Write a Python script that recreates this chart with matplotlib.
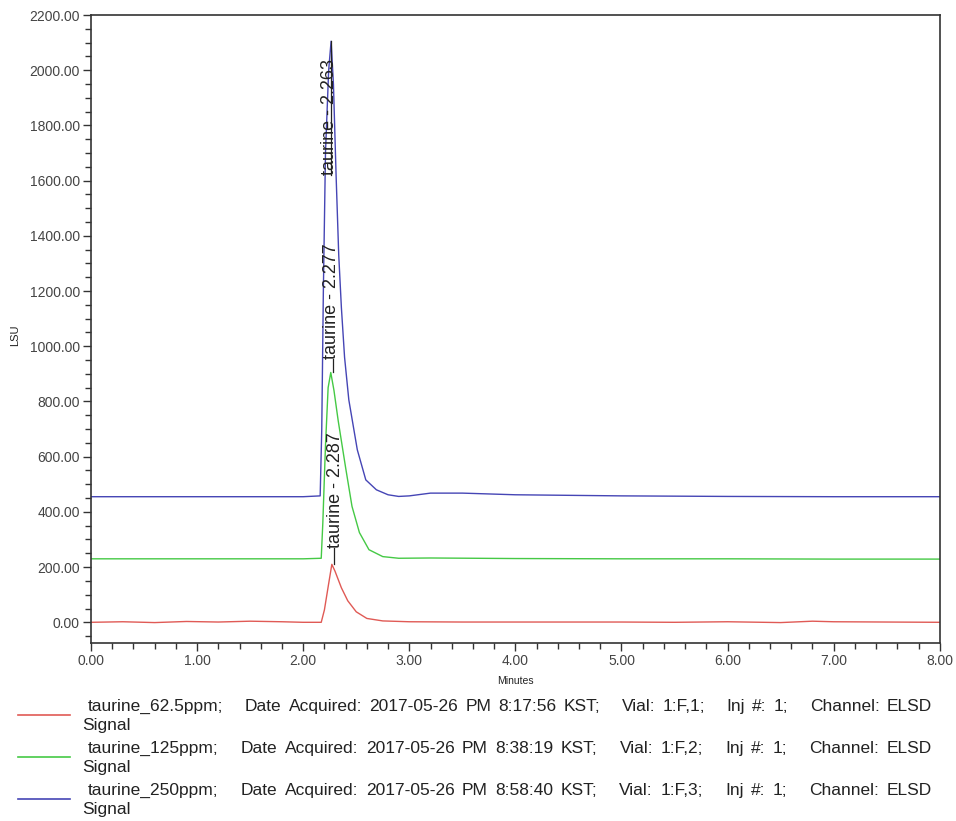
import matplotlib
matplotlib.use("Agg")
import matplotlib.pyplot as plt
from matplotlib.lines import Line2D
from matplotlib.ticker import MultipleLocator, FormatStrFormatter

plt.rcParams['font.family'] = ['Liberation Sans', 'DejaVu Sans']

# Chromatogram traces (minutes, LSU)
t_62 = [0.0, 0.3, 0.6, 0.9, 1.2, 1.5, 1.8, 2.0, 2.17, 2.2, 2.24, 2.27, 2.30, 2.36, 2.42,
        2.5, 2.6, 2.75, 3.0, 3.5, 4.0, 5.0, 5.5, 6.0, 6.5, 6.8, 7.0, 7.5, 8.0]
y_62 = [0, 2, -1, 3, 1, 4, 2, 0, 0, 45, 140, 210, 185, 125, 78,
        38, 14, 5, 2, 1, 1, 1, 0, 2, -1, 4, 2, 1, 0]

t_125 = [0.0, 1.0, 2.0, 2.17, 2.185, 2.21, 2.235, 2.26, 2.29, 2.33, 2.40, 2.46, 2.53, 2.62,
         2.75, 2.9, 3.2, 4.0, 5.0, 6.0, 7.0, 8.0]
y_125 = [230, 230, 230, 232, 360, 640, 850, 905, 840, 730, 560, 420, 325, 263,
         238, 232, 233, 231, 230, 230, 229, 229]

t_250 = [0.0, 1.0, 2.0, 2.16, 2.175, 2.19, 2.21, 2.24, 2.263, 2.285, 2.31, 2.335, 2.36,
         2.39, 2.43, 2.51, 2.59, 2.69, 2.8, 2.9, 3.0, 3.2, 3.5, 4.0, 5.0, 6.0, 7.0, 8.0]
y_250 = [455, 455, 455, 458, 700, 1200, 1700, 2000, 2105, 1950, 1620, 1330, 1140,
         960, 806, 625, 516, 480, 462, 456, 458, 468, 468, 462, 458, 456, 455, 455]

# peak labels: retention time, peak height, label start
peak_rt = [2.287, 2.277, 2.263]
peak_top = [210, 905, 2105]
label_lo = [270, 955, 1621]
label_x = [2.30, 2.27, 2.245]

names = ["taurine_62.5ppm;", "taurine_125ppm;", "taurine_250ppm;"]
acq_date = ["2017-05-26", "2017-05-26", "2017-05-26"]
acq_time = ["8:17:56", "8:38:19", "8:58:40"]
vials = ["1:F,1", "1:F,2", "1:F,3"]
colors = ["#e05a55", "#45c945", "#4545b5"]

W, H = 956, 821
fig = plt.figure(figsize=(W / 100, H / 100), dpi=100)
ax = fig.add_axes([0.0952, 0.2168, 0.8878, 0.7649])

for t, y, c in zip([t_62, t_125, t_250], [y_62, y_125, y_250], colors):
    ax.plot(t, y, color=c, lw=1.0)

# peak annotations
for rt, top, lo, lx in zip(peak_rt, peak_top, label_lo, label_x):
    ax.plot([rt, rt], [top, lo], color="#222222", lw=0.9)
    ax.text(lx, lo, f"taurine - {rt:.3f}", rotation=90, ha="center", va="bottom",
            fontsize=13, color="#222222")

ax.set_xlim(0, 8)
ax.set_ylim(-75, 2200)
ax.xaxis.set_major_locator(MultipleLocator(1))
ax.xaxis.set_minor_locator(MultipleLocator(0.2))
ax.yaxis.set_major_locator(MultipleLocator(200))
ax.yaxis.set_minor_locator(MultipleLocator(50))
ax.xaxis.set_major_formatter(FormatStrFormatter("%.2f"))
ax.yaxis.set_major_formatter(FormatStrFormatter("%.2f"))
ax.tick_params(which="major", direction="out", length=6, width=1, labelsize=10,
               labelcolor="#444444", color="#333333", pad=2)
ax.tick_params(which="minor", direction="out", length=4, width=1, color="#333333")
for s in ax.spines.values():
    s.set_color("#333333")
    s.set_linewidth(1.2)

ax.set_xlabel("Minutes", fontsize=7.5, labelpad=6, color="#222222")
ax.set_ylabel("LSU", fontsize=8, color="#222222")
ax.yaxis.set_label_coords(-0.083, 0.49)

# legend drawn by hand: the first line of each entry is justified from x=88 to x=932 px,
# with gaps between fields three times the gaps between words
renderer = fig.canvas.get_renderer()
row_base = [711, 753, 795]
x_start, x_end = 88, 932
for i, c in enumerate(colors):
    yb = row_base[i]
    fig.add_artist(Line2D([18 / W, 70 / W], [1 - (yb + 4) / H] * 2, color=c, lw=1.2))
    fields = [[names[i]],
              ["Date", "Acquired:", acq_date[i], "PM", acq_time[i], "KST;"],
              ["Vial:", vials[i] + ";"],
              ["Inj", "#:", "1;"],
              ["Channel:", "ELSD"]]
    words, weights = [], []
    for k, f in enumerate(fields):
        for j, w in enumerate(f):
            words.append(w)
            weights.append(0 if (k == 0 and j == 0) else (3 if j == 0 else 1))
    txts = [fig.text(0, 1 - yb / H, w, fontsize=12.5, va="baseline", ha="left",
                     color="#222222") for w in words]
    widths = [t.get_window_extent(renderer).width for t in txts]
    g = (x_end - x_start - sum(widths)) / sum(weights)
    x = x_start
    for t, w, wt in zip(txts, widths, weights):
        x += wt * g
        t.set_x(x / W)
        x += w
    fig.text(82 / W, 1 - (yb + 19) / H, "Signal", fontsize=12.5, va="baseline", ha="left",
             color="#222222")

fig.savefig("out.png", dpi=100)
